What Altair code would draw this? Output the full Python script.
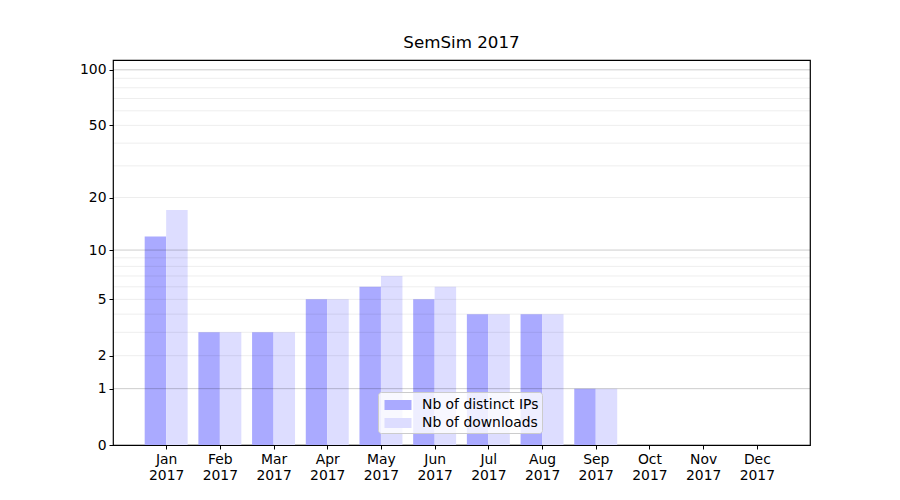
import altair as alt
import pandas as pd

months = ["Jan", "Feb", "Mar", "Apr", "May", "Jun", "Jul", "Aug", "Sep", "Oct", "Nov", "Dec"]
year_label = "2017"
ips = [12, 3, 3, 5, 6, 5, 4, 4, 1, 0, 0, 0]
downloads = [17, 3, 3, 5, 7, 6, 4, 4, 1, 0, 0, 0]
series_names = ["Nb of distinct IPs", "Nb of downloads"]
series_colors = ["#aaaaff", "#ddddff"]
y_ticks = [0, 1, 2, 5, 10, 20, 50, 100]
major_grid = [1, 10, 100]
minor_grid = [2, 3, 4, 5, 6, 7, 8, 9, 20, 30, 40, 50, 60, 70, 80, 90]

rows = []
for i, m in enumerate(months):
    rows.append({"m": i + 1, "series": series_names[0], "value": ips[i]})
    rows.append({"m": i + 1, "series": series_names[1], "value": downloads[i]})
df = pd.DataFrame(rows)

FONT = "DejaVu Sans"
FS = 13.9
month_arr = "[" + ",".join("'%s'" % m for m in months) + "]"

xscale = alt.Scale(domain=[0.01, 12.99], nice=False, zero=False)
yscale = alt.Scale(type="symlog", constant=1, domain=[0, 113], nice=False, clamp=True)

bars = alt.Chart(df).transform_calculate(
    x0="datum.series == '%s' ? datum.m - 0.4 : datum.m" % series_names[0],
    x1="datum.series == '%s' ? datum.m : datum.m + 0.4" % series_names[0],
).mark_bar(cornerRadius=0).encode(
    x=alt.X("x0:Q", scale=xscale,
            axis=alt.Axis(values=list(range(1, 13)), title=None, grid=False, domain=False,
                          labelExpr="[%s[datum.value - 1], '%s']" % (month_arr, year_label),
                          tickSize=4, tickColor="black", labelColor="black",
                          labelFont=FONT, labelFontSize=FS, labelPadding=3,
                          labelLineHeight=16, labelFlush=False)),
    x2="x1:Q",
    y=alt.Y("value:Q", scale=yscale,
            axis=alt.Axis(values=y_ticks, format="d", title=None, grid=False, domain=False,
                          tickSize=4, tickColor="black", labelColor="black",
                          labelFont=FONT, labelFontSize=FS, labelPadding=3,
                          labelFlush=False)),
    y2=alt.datum(0),
    color=alt.Color("series:N",
                    scale=alt.Scale(domain=series_names, range=series_colors),
                    legend=alt.Legend(title=None, orient="none", legendX=265, legendY=332,
                                      fillColor="rgba(255,255,255,0.8)", strokeColor="#cccccc",
                                      cornerRadius=3, padding=3,
                                      symbolType="M-1.35,-0.5H1.35V0.5H-1.35Z",
                                      symbolSize=400, symbolStrokeWidth=0, symbolOpacity=1,
                                      labelFont=FONT, labelFontSize=FS, labelColor="black",
                                      rowPadding=1, symbolOffset=7, labelOffset=14)),
)

gmaj = alt.Chart(pd.DataFrame({"v": major_grid})).mark_rule(
    color="black", opacity=0.2, strokeWidth=1
).encode(y=alt.Y("v:Q", scale=yscale))

gmin = alt.Chart(pd.DataFrame({"v": minor_grid})).mark_rule(
    color="black", opacity=0.07, strokeWidth=1
).encode(y=alt.Y("v:Q", scale=yscale))

chart = alt.layer(bars, gmin, gmaj).properties(
    width=697, height=385,
    title=alt.TitleParams("SemSim 2017", font=FONT, fontSize=16.7, fontWeight="normal",
                          color="black", anchor="middle", offset=8),
    autosize=alt.AutoSizeParams(type="none"),
    padding={"left": 105, "top": 52, "right": 82, "bottom": 47},
).configure_view(stroke="black", strokeWidth=1.2)

chart.save("out.html", embed_options={"renderer": "svg", "actions": False})
